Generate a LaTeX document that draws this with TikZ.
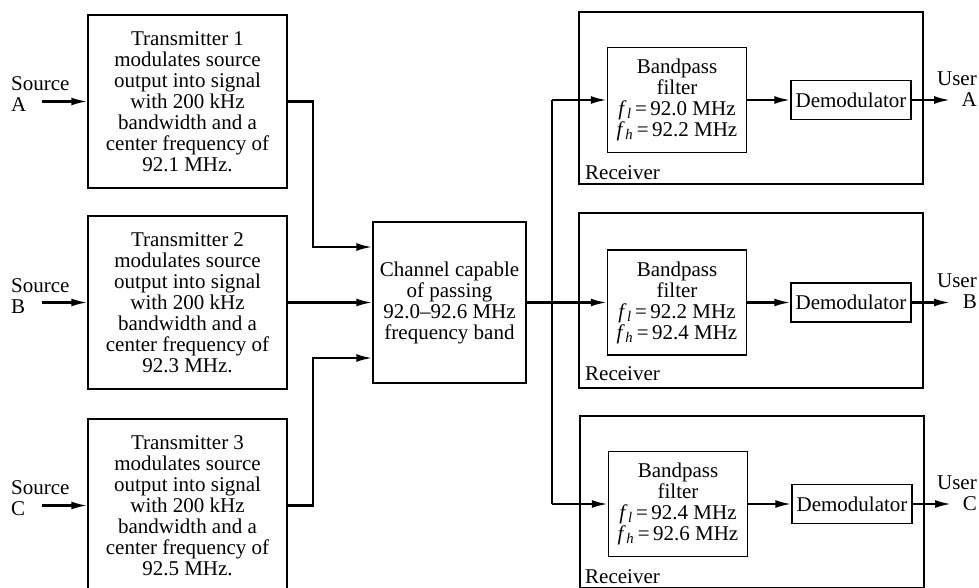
\documentclass[tikz,border=0pt]{standalone}
\usepackage{fontspec}
\setmainfont{Liberation Serif}
\usetikzlibrary{arrows.meta}
\newcommand\dfs{\fontsize{21}{21}\selectfont}
\newcommand\fl{\textit{f}\kern0.02em\textsubscript{\textit{l}}}
\newcommand\fh{\textit{f}\kern0.02em\textsubscript{\textit{h}}}
\begin{document}
\begin{tikzpicture}[x=1pt,y=-1pt,
  every node/.style={font=\dfs},
  box/.style={draw, line width=1.5pt, align=center, inner sep=0pt},
  txbox/.style={box, minimum width=199pt, minimum height=173pt},
  bpbox/.style={box, minimum width=139pt, minimum height=105pt},
  dmbox/.style={box, minimum width=120pt, minimum height=39pt},
  rxbox/.style={draw, line width=1.5pt, minimum width=344pt, minimum height=172pt, inner sep=0pt},
  conn/.style={line width=2.2pt, -{Latex[length=16pt,width=8pt]}},
  wire/.style={line width=2.2pt},
  lbl/.style={align=left, inner sep=0pt}]
\useasboundingbox (0,0) rectangle (979,588);
\clip (0,0) rectangle (979,588);

% transmitters
\node[txbox] (t1) at (187.5,101.5) {Transmitter 1\\modulates source\\output into signal\\with 200 kHz\\bandwidth and a\\center frequency of\\92.1 MHz.};
\node[txbox] (t2) at (187.5,302.5) {Transmitter 2\\modulates source\\output into signal\\with 200 kHz\\bandwidth and a\\center frequency of\\92.3 MHz.};
\node[txbox] (t3) at (187.5,505.5) {Transmitter 3\\modulates source\\output into signal\\with 200 kHz\\bandwidth and a\\center frequency of\\92.5 MHz.};

% sources
\node[lbl, anchor=west] (sA) at (11,94) {Source\\A};
\node[lbl, anchor=west] (sB) at (11,296) {Source\\B};
\node[lbl, anchor=west] (sC) at (11,498) {Source\\C};
\coordinate (inA) at (42,101.5);
\coordinate (inB) at (42,302.5);
\coordinate (inC) at (42,505.5);
\draw[conn] (inA) -- (t1.west);
\draw[conn] (inB) -- (t2.west);
\draw[conn] (inC) -- (t3.west);

% channel
\node[box, minimum width=153pt, minimum height=161pt] (ch) at (449.5,302.5) {Channel capable\\of passing\\92.0--92.6 MHz\\frequency band};

\coordinate (jx) at (313,0);
\draw[conn] (t1.east) -- (t1.east -| jx) |- ([yshift=55.5pt]ch.west);
\draw[conn] (t2.east) -- (ch.west);
\draw[conn] (t3.east) -- (t3.east -| jx) |- ([yshift=-55.5pt]ch.west);

% receivers
\node[rxbox] (rxA) at (751,98) {};
\node[rxbox, minimum height=175pt] (rxB) at (751,300.5) {};
\node[rxbox] (rxC) at (752,502) {};
\node[anchor=west, inner sep=0pt] (lA) at (585,173) {Receiver};
\node[anchor=west, inner sep=0pt] (lB) at (585,374) {Receiver};
\node[anchor=west, inner sep=0pt] (lC) at (585,577) {Receiver};

\node[bpbox] (bpA) at (677,100) {Bandpass\\filter\\\fl\,=\,92.0 MHz\\\fh\,=\,92.2 MHz};
\node[bpbox] (bpB) at (677,302.5) {Bandpass\\filter\\\fl\,=\,92.2 MHz\\\fh\,=\,92.4 MHz};
\node[bpbox] (bpC) at (678,504) {Bandpass\\filter\\\fl\,=\,92.4 MHz\\\fh\,=\,92.6 MHz};

\node[dmbox] (dA) at (851,100) {Demodulator};
\node[dmbox] (dB) at (851,302.5) {Demodulator};
\node[dmbox] (dC) at (852,504) {Demodulator};

\draw[conn] (bpA.east) -- (dA.west);
\draw[conn] (bpB.east) -- (dB.west);
\draw[conn] (bpC.east) -- (dC.west);

\coordinate (oA) at (950,100);
\coordinate (oB) at (950,302.5);
\coordinate (oC) at (951,504);
\draw[conn] (dA.east) -- (oA);
\draw[conn] (dB.east) -- (oB);
\draw[conn] (dC.east) -- (oC);
\node[align=right, anchor=east, inner sep=0pt] (uA) at (977,89) {User\\A};
\node[align=right, anchor=east, inner sep=0pt] (uB) at (977,291) {User\\B};
\node[align=right, anchor=east, inner sep=0pt] (uC) at (977,493) {User\\C};

% bus
\coordinate (bus) at (552,0);
\draw[wire] (ch.east) -- (ch.east -| bus);
\draw[wire] (bus |- bpA.west) -- (bus |- bpC.west);
\draw[conn] (bus |- bpA.west) -- (bpA.west);
\draw[conn] (bus |- bpB.west) -- (bpB.west);
\draw[conn] (bus |- bpC.west) -- (bpC.west);
\end{tikzpicture}
\end{document}
